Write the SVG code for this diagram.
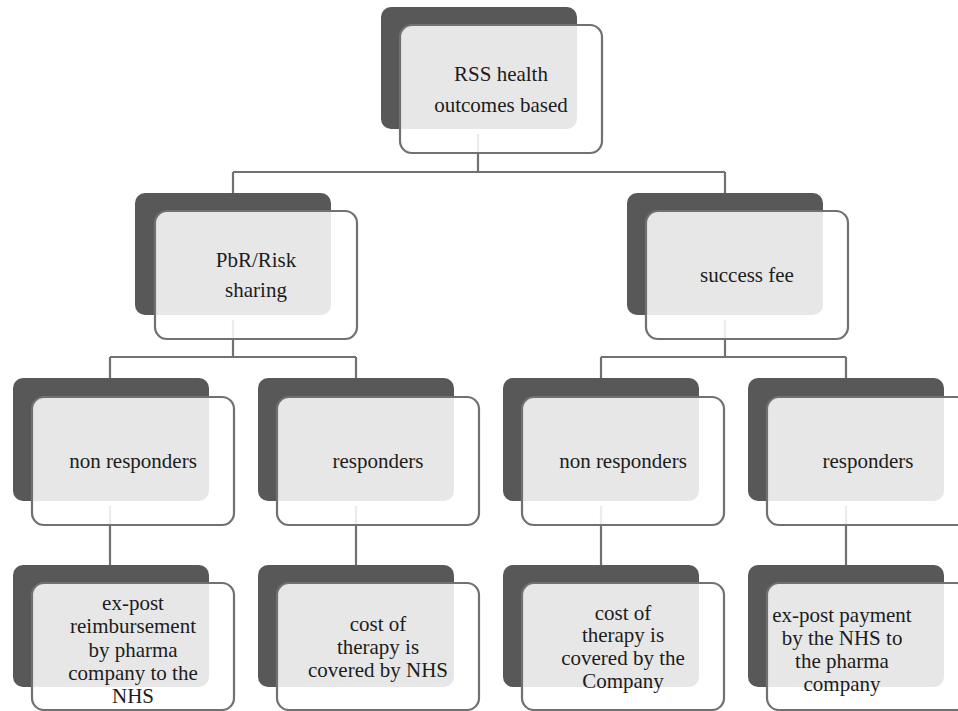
<svg xmlns="http://www.w3.org/2000/svg" width="958" height="711" viewBox="0 0 958 711">
<style>
.bg{fill:#ffffff}
.dk{fill:#585858}
.fr{fill:#ffffff;fill-opacity:0.86;stroke:#717171;stroke-width:2.2}
.ln{fill:none;stroke:#717171;stroke-width:2.2}
.t text{font-size:21px;fill:#1c1c1c;text-anchor:middle}
</style>
<rect class="bg" x="0" y="0" width="958" height="711"/>
<g id="connectors">
<path class="ln" d="M478 134V172M233 172H725M233 172V193M725 172V193"/>
<path class="ln" d="M233 320V357M110 357H356M110 357V378M356 357V378"/>
<path class="ln" d="M725 320V357M601 357H846M601 357V378M846 357V378"/>
<path class="ln" d="M110 506V565M356 506V565M601 506V565M846 506V565"/>
</g>
<g class="t" font-family="'Liberation Serif', 'Times New Roman', Tinos, 'DejaVu Serif', serif">
<g id="n-root">
<rect class="dk" x="381" y="7" width="196" height="122" rx="10"/>
<rect class="fr" x="400" y="25" width="202" height="128" rx="12"/>
<text x="501" y="81">RSS health</text>
<text x="501" y="112">outcomes based</text>
</g>
<g id="n-pbr">
<rect class="dk" x="135" y="193" width="196" height="122" rx="10"/>
<rect class="fr" x="155" y="211" width="202" height="128" rx="12"/>
<text x="256" y="267">PbR/Risk</text>
<text x="256" y="297">sharing</text>
</g>
<g id="n-fee">
<rect class="dk" x="627" y="193" width="196" height="122" rx="10"/>
<rect class="fr" x="646" y="211" width="202" height="128" rx="12"/>
<text x="747" y="282">success fee</text>
</g>
<g id="n-nr1">
<rect class="dk" x="13" y="378" width="196" height="123" rx="10"/>
<rect class="fr" x="32" y="397" width="202" height="128" rx="12"/>
<text x="133" y="468">non responders</text>
</g>
<g id="n-r1">
<rect class="dk" x="258" y="378" width="196" height="123" rx="10"/>
<rect class="fr" x="277" y="397" width="202" height="128" rx="12"/>
<text x="378" y="468">responders</text>
</g>
<g id="n-nr2">
<rect class="dk" x="503" y="378" width="196" height="123" rx="10"/>
<rect class="fr" x="522" y="397" width="202" height="128" rx="12"/>
<text x="623" y="468">non responders</text>
</g>
<g id="n-r2">
<rect class="dk" x="748" y="378" width="196" height="123" rx="10"/>
<rect class="fr" x="767" y="397" width="202" height="128" rx="12"/>
<text x="868" y="468">responders</text>
</g>
<g id="n-l1">
<rect class="dk" x="13" y="565" width="196" height="122" rx="10"/>
<rect class="fr" x="32" y="583" width="202" height="127" rx="12"/>
<text x="133" y="610">ex-post</text>
<text x="133" y="633">reimbursement</text>
<text x="133" y="657">by pharma</text>
<text x="133" y="680">company to the</text>
<text x="133" y="703">NHS</text>
</g>
<g id="n-l2">
<rect class="dk" x="258" y="565" width="196" height="122" rx="10"/>
<rect class="fr" x="277" y="583" width="202" height="127" rx="12"/>
<text x="378" y="631">cost of</text>
<text x="378" y="654">therapy is</text>
<text x="378" y="677">covered by NHS</text>
</g>
<g id="n-l3">
<rect class="dk" x="503" y="565" width="196" height="122" rx="10"/>
<rect class="fr" x="522" y="583" width="202" height="127" rx="12"/>
<text x="623" y="620">cost of</text>
<text x="623" y="642">therapy is</text>
<text x="623" y="665">covered by the</text>
<text x="623" y="688">Company</text>
</g>
<g id="n-l4">
<rect class="dk" x="748" y="565" width="196" height="122" rx="10"/>
<rect class="fr" x="767" y="583" width="202" height="127" rx="12"/>
<text x="842" y="622">ex-post payment</text>
<text x="842" y="645">by the NHS to</text>
<text x="842" y="668">the pharma</text>
<text x="842" y="691">company</text>
</g>
</g>
</svg>
